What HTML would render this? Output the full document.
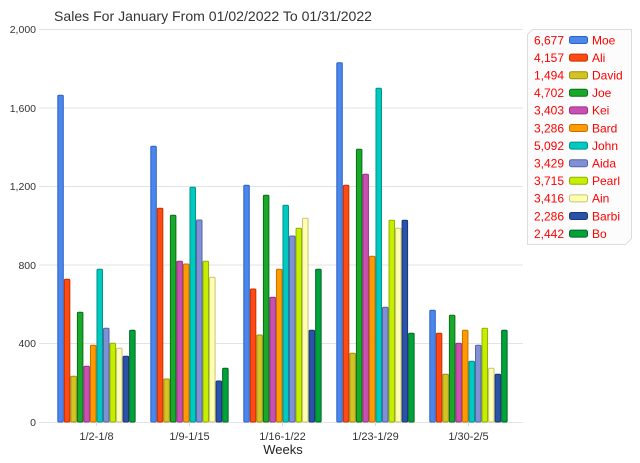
<!DOCTYPE html>
<html>
<head>
<meta charset="utf-8">
<style>
  html,body{margin:0;padding:0;background:#fff;}
  body{width:640px;height:463px;overflow:hidden;}
  svg{display:block;font-family:"Liberation Sans",Arial,sans-serif;}
</style>
</head>
<body>
<svg width="640" height="463" viewBox="0 0 640 463" xmlns="http://www.w3.org/2000/svg">
  <rect x="0" y="0" width="640" height="463" fill="#fff"/>
  <!-- Title -->
  <text x="54" y="21" font-size="14" fill="#333" textLength="318" lengthAdjust="spacingAndGlyphs">Sales For January From 01/02/2022 To 01/31/2022</text>

  <!-- gridlines -->
  <g stroke="#e3e3e3" stroke-width="1">
    <line x1="39" y1="29.5" x2="523" y2="29.5"/>
    <line x1="39" y1="108" x2="523" y2="108"/>
    <line x1="39" y1="186.5" x2="523" y2="186.5"/>
    <line x1="39" y1="265" x2="523" y2="265"/>
    <line x1="39" y1="343.5" x2="523" y2="343.5"/>
    <line x1="39" y1="422.5" x2="523" y2="422.5"/>
  </g>
  <!-- x ticks -->
  <g stroke="#d8d8d8" stroke-width="1">
    <line x1="96.5" y1="422" x2="96.5" y2="426"/>
    <line x1="189.5" y1="422" x2="189.5" y2="426"/>
    <line x1="282.5" y1="422" x2="282.5" y2="426"/>
    <line x1="375.5" y1="422" x2="375.5" y2="426"/>
    <line x1="468.5" y1="422" x2="468.5" y2="426"/>
  </g>

  <!-- y labels -->
  <g font-size="10.5" fill="#333" text-anchor="end">
    <text x="36" y="33">2,000</text>
    <text x="36" y="112">1,600</text>
    <text x="36" y="190">1,200</text>
    <text x="36" y="269">800</text>
    <text x="36" y="347">400</text>
    <text x="36" y="426">0</text>
  </g>

  <!-- x labels -->
  <g font-size="11" fill="#333" text-anchor="middle">
    <text x="96.5" y="440">1/2-1/8</text>
    <text x="189.5" y="440">1/9-1/15</text>
    <text x="282.5" y="440">1/16-1/22</text>
    <text x="375.5" y="440">1/23-1/29</text>
    <text x="468.5" y="440">1/30-2/5</text>
  </g>
  <text x="283" y="454" font-size="13" fill="#222" text-anchor="middle">Weeks</text>

  <!-- bars: group 1 -->
  <g transform="translate(57.3,0)" stroke-width="1">
    <rect x="0.5" y="95.3" width="5.5" height="326.7" rx="1" fill="#4a86ec" stroke="#2c62c4"/>
    <rect x="7.03" y="279.3" width="5.5" height="142.7" rx="1" fill="#ff4a14" stroke="#c23200"/>
    <rect x="13.56" y="376.3" width="5.5" height="45.7" rx="1" fill="#d4c423" stroke="#9c8e10"/>
    <rect x="20.09" y="312.3" width="5.5" height="109.7" rx="1" fill="#18a82a" stroke="#0c6e16"/>
    <rect x="26.62" y="366.3" width="5.5" height="55.7" rx="1" fill="#c94fb0" stroke="#983088"/>
    <rect x="33.15" y="345.3" width="5.5" height="76.7" rx="1" fill="#ff9a00" stroke="#c27200"/>
    <rect x="39.68" y="269.3" width="5.5" height="152.7" rx="1" fill="#00c9c0" stroke="#00928a"/>
    <rect x="46.21" y="328.3" width="5.5" height="93.7" rx="1" fill="#8090d6" stroke="#5464a8"/>
    <rect x="52.74" y="343.3" width="5.5" height="78.7" rx="1" fill="#c6ef00" stroke="#90b000"/>
    <rect x="59.27" y="348.3" width="5.5" height="73.7" rx="1" fill="#ffffb0" stroke="#c8c27e"/>
    <rect x="65.8" y="356.3" width="5.5" height="65.7" rx="1" fill="#2a52a8" stroke="#183878"/>
    <rect x="72.33" y="330.3" width="5.5" height="91.7" rx="1" fill="#00a23a" stroke="#006624"/>
  </g>
  <!-- group 2 -->
  <g transform="translate(150.3,0)" stroke-width="1">
    <rect x="0.5" y="146.3" width="5.5" height="275.7" rx="1" fill="#4a86ec" stroke="#2c62c4"/>
    <rect x="7.03" y="208.3" width="5.5" height="213.7" rx="1" fill="#ff4a14" stroke="#c23200"/>
    <rect x="13.56" y="379" width="5.5" height="43" rx="1" fill="#d4c423" stroke="#9c8e10"/>
    <rect x="20.09" y="215.3" width="5.5" height="206.7" rx="1" fill="#18a82a" stroke="#0c6e16"/>
    <rect x="26.62" y="261.3" width="5.5" height="160.7" rx="1" fill="#c94fb0" stroke="#983088"/>
    <rect x="33.15" y="264" width="5.5" height="158" rx="1" fill="#ff9a00" stroke="#c27200"/>
    <rect x="39.68" y="187.3" width="5.5" height="234.7" rx="1" fill="#00c9c0" stroke="#00928a"/>
    <rect x="46.21" y="220" width="5.5" height="202" rx="1" fill="#8090d6" stroke="#5464a8"/>
    <rect x="52.74" y="261.3" width="5.5" height="160.7" rx="1" fill="#c6ef00" stroke="#90b000"/>
    <rect x="59.27" y="277.3" width="5.5" height="144.7" rx="1" fill="#ffffb0" stroke="#c8c27e"/>
    <rect x="65.8" y="381" width="5.5" height="41" rx="1" fill="#2a52a8" stroke="#183878"/>
    <rect x="72.33" y="368.3" width="5.5" height="53.7" rx="1" fill="#00a23a" stroke="#006624"/>
  </g>
  <!-- group 3 -->
  <g transform="translate(243.3,0)" stroke-width="1">
    <rect x="0.5" y="185.3" width="5.5" height="236.7" rx="1" fill="#4a86ec" stroke="#2c62c4"/>
    <rect x="7.03" y="289" width="5.5" height="133" rx="1" fill="#ff4a14" stroke="#c23200"/>
    <rect x="13.56" y="335" width="5.5" height="87" rx="1" fill="#d4c423" stroke="#9c8e10"/>
    <rect x="20.09" y="195.3" width="5.5" height="226.7" rx="1" fill="#18a82a" stroke="#0c6e16"/>
    <rect x="26.62" y="297.3" width="5.5" height="124.7" rx="1" fill="#c94fb0" stroke="#983088"/>
    <rect x="33.15" y="269.3" width="5.5" height="152.7" rx="1" fill="#ff9a00" stroke="#c27200"/>
    <rect x="39.68" y="205.3" width="5.5" height="216.7" rx="1" fill="#00c9c0" stroke="#00928a"/>
    <rect x="46.21" y="236" width="5.5" height="186" rx="1" fill="#8090d6" stroke="#5464a8"/>
    <rect x="52.74" y="228.3" width="5.5" height="193.7" rx="1" fill="#c6ef00" stroke="#90b000"/>
    <rect x="59.27" y="218.3" width="5.5" height="203.7" rx="1" fill="#ffffb0" stroke="#c8c27e"/>
    <rect x="65.8" y="330.3" width="5.5" height="91.7" rx="1" fill="#2a52a8" stroke="#183878"/>
    <rect x="72.33" y="269.3" width="5.5" height="152.7" rx="1" fill="#00a23a" stroke="#006624"/>
  </g>
  <!-- group 4 -->
  <g transform="translate(336.3,0)" stroke-width="1">
    <rect x="0.5" y="62.7" width="5.5" height="359.3" rx="1" fill="#4a86ec" stroke="#2c62c4"/>
    <rect x="7.03" y="185.3" width="5.5" height="236.7" rx="1" fill="#ff4a14" stroke="#c23200"/>
    <rect x="13.56" y="353.3" width="5.5" height="68.7" rx="1" fill="#d4c423" stroke="#9c8e10"/>
    <rect x="20.09" y="149.3" width="5.5" height="272.7" rx="1" fill="#18a82a" stroke="#0c6e16"/>
    <rect x="26.62" y="174.3" width="5.5" height="247.7" rx="1" fill="#c94fb0" stroke="#983088"/>
    <rect x="33.15" y="256.3" width="5.5" height="165.7" rx="1" fill="#ff9a00" stroke="#c27200"/>
    <rect x="39.68" y="88.3" width="5.5" height="333.7" rx="1" fill="#00c9c0" stroke="#00928a"/>
    <rect x="46.21" y="307.3" width="5.5" height="114.7" rx="1" fill="#8090d6" stroke="#5464a8"/>
    <rect x="52.74" y="220.3" width="5.5" height="201.7" rx="1" fill="#c6ef00" stroke="#90b000"/>
    <rect x="59.27" y="228.3" width="5.5" height="193.7" rx="1" fill="#ffffb0" stroke="#c8c27e"/>
    <rect x="65.8" y="220.3" width="5.5" height="201.7" rx="1" fill="#2a52a8" stroke="#183878"/>
    <rect x="72.33" y="333.3" width="5.5" height="88.7" rx="1" fill="#00a23a" stroke="#006624"/>
  </g>
  <!-- group 5 -->
  <g transform="translate(429.3,0)" stroke-width="1">
    <rect x="0.5" y="310.3" width="5.5" height="111.7" rx="1" fill="#4a86ec" stroke="#2c62c4"/>
    <rect x="7.03" y="333.3" width="5.5" height="88.7" rx="1" fill="#ff4a14" stroke="#c23200"/>
    <rect x="13.56" y="374.3" width="5.5" height="47.7" rx="1" fill="#d4c423" stroke="#9c8e10"/>
    <rect x="20.09" y="315.3" width="5.5" height="106.7" rx="1" fill="#18a82a" stroke="#0c6e16"/>
    <rect x="26.62" y="343.3" width="5.5" height="78.7" rx="1" fill="#c94fb0" stroke="#983088"/>
    <rect x="33.15" y="330.3" width="5.5" height="91.7" rx="1" fill="#ff9a00" stroke="#c27200"/>
    <rect x="39.68" y="361.3" width="5.5" height="60.7" rx="1" fill="#00c9c0" stroke="#00928a"/>
    <rect x="46.21" y="345.3" width="5.5" height="76.7" rx="1" fill="#8090d6" stroke="#5464a8"/>
    <rect x="52.74" y="328.3" width="5.5" height="93.7" rx="1" fill="#c6ef00" stroke="#90b000"/>
    <rect x="59.27" y="368.3" width="5.5" height="53.7" rx="1" fill="#ffffb0" stroke="#c8c27e"/>
    <rect x="65.8" y="374.3" width="5.5" height="47.7" rx="1" fill="#2a52a8" stroke="#183878"/>
    <rect x="72.33" y="330.3" width="5.5" height="91.7" rx="1" fill="#00a23a" stroke="#006624"/>
  </g>

  <!-- Legend -->
  <path d="M532.5,29.5 H631.5 V238.5 L625.5,244.5 H527.5 V34.5 Z" fill="#fcfcfc" stroke="#dcdcdc" stroke-width="1"/>
  <g font-size="12" fill="#ff0000">
    <g text-anchor="end">
      <text x="564" y="44.3">6,677</text>
      <text x="564" y="61.9">4,157</text>
      <text x="564" y="79.5">1,494</text>
      <text x="564" y="97.1">4,702</text>
      <text x="564" y="114.7">3,403</text>
      <text x="564" y="132.3">3,286</text>
      <text x="564" y="149.9">5,092</text>
      <text x="564" y="167.5">3,429</text>
      <text x="564" y="185.1">3,715</text>
      <text x="564" y="202.7">3,416</text>
      <text x="564" y="220.3">2,286</text>
      <text x="564" y="237.9">2,442</text>
    </g>
    <text x="592" y="44.3">Moe</text>
    <text x="592" y="61.9">Ali</text>
    <text x="592" y="79.5">David</text>
    <text x="592" y="97.1">Joe</text>
    <text x="592" y="114.7">Kei</text>
    <text x="592" y="132.3">Bard</text>
    <text x="592" y="149.9">John</text>
    <text x="592" y="167.5">Aida</text>
    <text x="592" y="185.1">Pearl</text>
    <text x="592" y="202.7">Ain</text>
    <text x="592" y="220.3">Barbi</text>
    <text x="592" y="237.9">Bo</text>
  </g>
  <g stroke-width="1">
    <rect x="569.5" y="36.5" width="18" height="7" rx="2" fill="#4a86ec" stroke="#2c62c4"/>
    <rect x="569.5" y="54.1" width="18" height="7" rx="2" fill="#ff4a14" stroke="#c23200"/>
    <rect x="569.5" y="71.7" width="18" height="7" rx="2" fill="#d4c423" stroke="#9c8e10"/>
    <rect x="569.5" y="89.3" width="18" height="7" rx="2" fill="#18a82a" stroke="#0c6e16"/>
    <rect x="569.5" y="106.9" width="18" height="7" rx="2" fill="#c94fb0" stroke="#983088"/>
    <rect x="569.5" y="124.5" width="18" height="7" rx="2" fill="#ff9a00" stroke="#c27200"/>
    <rect x="569.5" y="142.1" width="18" height="7" rx="2" fill="#00c9c0" stroke="#00928a"/>
    <rect x="569.5" y="159.7" width="18" height="7" rx="2" fill="#8090d6" stroke="#5464a8"/>
    <rect x="569.5" y="177.3" width="18" height="7" rx="2" fill="#c6ef00" stroke="#90b000"/>
    <rect x="569.5" y="194.9" width="18" height="7" rx="2" fill="#ffffb0" stroke="#c8c27e"/>
    <rect x="569.5" y="212.5" width="18" height="7" rx="2" fill="#2a52a8" stroke="#183878"/>
    <rect x="569.5" y="230.1" width="18" height="7" rx="2" fill="#00a23a" stroke="#006624"/>
  </g>
</svg>
</body>
</html>
